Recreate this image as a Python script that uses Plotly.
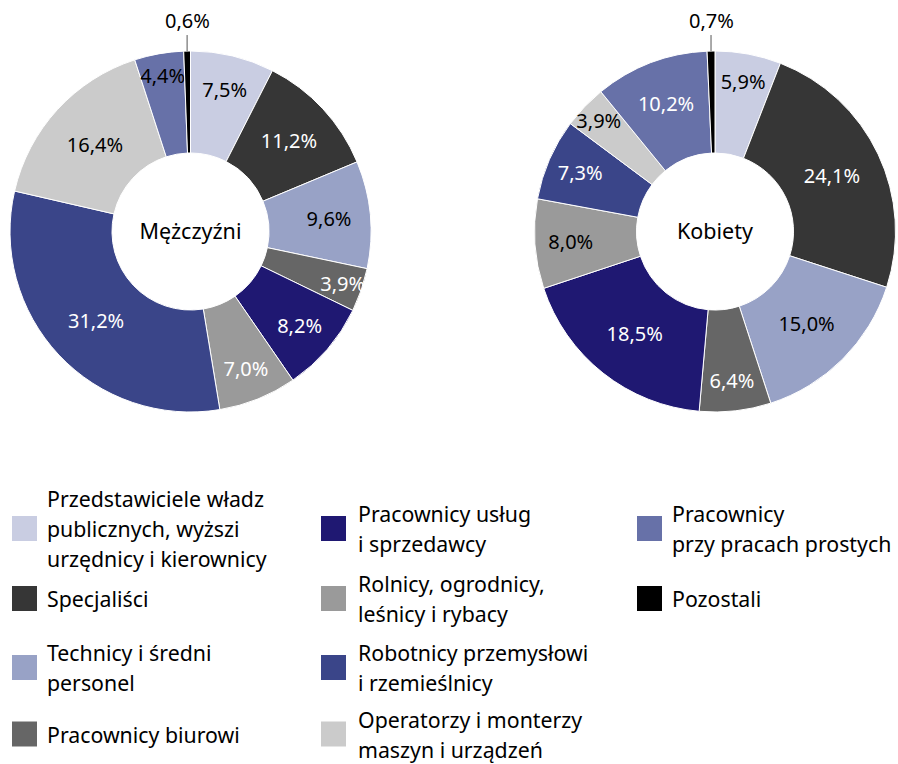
import math
import plotly.graph_objects as go

W, H = 898, 764
FONT = "Noto Sans"

categories = [
    "Przedstawiciele władz publicznych, wyżsi urzędnicy i kierownicy",
    "Specjaliści",
    "Technicy i średni personel",
    "Pracownicy biurowi",
    "Pracownicy usług i sprzedawcy",
    "Rolnicy, ogrodnicy, leśnicy i rybacy",
    "Robotnicy przemysłowi i rzemieślnicy",
    "Operatorzy i monterzy maszyn i urządzeń",
    "Pracownicy przy pracach prostych",
    "Pozostali",
]
men_values = [7.5, 11.2, 9.6, 3.9, 8.2, 7.0, 31.2, 16.4, 4.4, 0.6]
women_values = [5.9, 24.1, 15.0, 6.4, 18.5, 8.0, 7.3, 3.9, 10.2, 0.7]
pie_titles = ["Mężczyźni", "Kobiety"]

legend_lines = [
    ["Przedstawiciele władz", "publicznych, wyższi", "urzędnicy i kierownicy"],
    ["Specjaliści"],
    ["Technicy i średni", "personel"],
    ["Pracownicy biurowi"],
    ["Pracownicy usług", "i sprzedawcy"],
    ["Rolnicy, ogrodnicy,", "leśnicy i rybacy"],
    ["Robotnicy przemysłowi", "i rzemieślnicy"],
    ["Operatorzy i monterzy", "maszyn i urządzeń"],
    ["Pracownicy", "przy pracach prostych"],
    ["Pozostali"],
]

colors = ["#c9cde2", "#363636", "#98a2c6", "#666666", "#1f1872",
          "#9a9a9a", "#3a4589", "#cbcbcb", "#6771a8", "#000000"]
men_text_colors = ["black", "white", "black", "white", "white",
                   "white", "white", "black", "black", "black"]
women_text_colors = ["black", "white", "black", "white", "white",
                     "black", "white", "black", "white", "black"]

# pie geometry in pixels (center x, center y, radius)
pies = [(190.5, 231.5, 180.5), (715.0, 231.5, 180.5)]
HOLE = 0.435


def fmt(v):
    return f"{v:.1f}".replace(".", ",") + "%"


fig = go.Figure()
annotations = []
shapes = []

for (cx, cy, R), vals, tcols, title in zip(
        pies, [men_values, women_values],
        [men_text_colors, women_text_colors], pie_titles):
    texts = [fmt(v) for v in vals[:-1]] + [""]
    fig.add_trace(go.Pie(
        labels=categories,
        values=vals,
        text=texts,
        textinfo="text",
        textposition="inside",
        insidetextorientation="horizontal",
        textfont=dict(family=FONT, size=20, color=tcols),
        sort=False,
        direction="clockwise",
        rotation=0,
        hole=HOLE,
        marker=dict(colors=colors, line=dict(color="white", width=1)),
        domain=dict(x=[(cx - R) / W, (cx + R) / W],
                    y=[1 - (cy + R) / H, 1 - (cy - R) / H]),
        title=dict(text=title, position="middle center",
                   font=dict(family=FONT, size=21.5, color="black")),
        showlegend=False,
        hoverinfo="label+text",
    ))
    # outside label for the tiny last slice, with leader line
    total = sum(vals)
    frac = (total - vals[-1] / 2) / total
    th = 2 * math.pi * frac
    px = cx + R * math.sin(th)
    py = cy - R * math.cos(th)
    annotations.append(dict(
        x=px / W, y=1 - py / H, xref="paper", yref="paper",
        text=fmt(vals[-1]), showarrow=True, ax=0, ay=-31,
        arrowhead=0, arrowwidth=1, arrowcolor="#555555", standoff=0,
        font=dict(family=FONT, size=20, color="black"),
    ))

# legend built from the category lists
col_x = [(12, 48), (321, 359), (637, 673)]
row_y = [528.5, 598.5, 667.5, 734.0]
SQ = 25
LINE = 30
layout_slots = [(0, 0), (0, 1), (0, 2), (0, 3), (1, 0), (1, 1), (1, 2), (1, 3), (2, 0), (2, 1)]
for i, (c, r) in enumerate(layout_slots):
    sx, tx = col_x[c]
    yc = row_y[r]
    shapes.append(dict(type="rect", xref="paper", yref="paper",
                       x0=sx / W, x1=(sx + SQ) / W,
                       y0=1 - (yc + SQ / 2) / H, y1=1 - (yc - SQ / 2) / H,
                       fillcolor=colors[i], line=dict(width=0)))
    lines = legend_lines[i]
    n = len(lines)
    for k, ln in enumerate(lines):
        ly = yc + (k - (n - 1) / 2) * LINE
        annotations.append(dict(
            x=tx / W, y=1 - ly / H, xref="paper", yref="paper",
            text=ln, showarrow=False, xanchor="left", yanchor="middle",
            xshift=-1, borderpad=0, borderwidth=0,
            font=dict(family=FONT, size=21.3, color="black"),
        ))

fig.update_layout(
    width=W, height=H,
    margin=dict(l=0, r=0, t=0, b=0),
    paper_bgcolor="white",
    plot_bgcolor="white",
    uniformtext=dict(mode="show", minsize=20),
    annotations=annotations,
    shapes=shapes,
    font=dict(family=FONT, size=20, color="black"),
)

fig.write_html(
    "out.html",
    config={"displayModeBar": False},
    post_script="document.body.style.margin='0';document.body.style.overflow='hidden';",
)
